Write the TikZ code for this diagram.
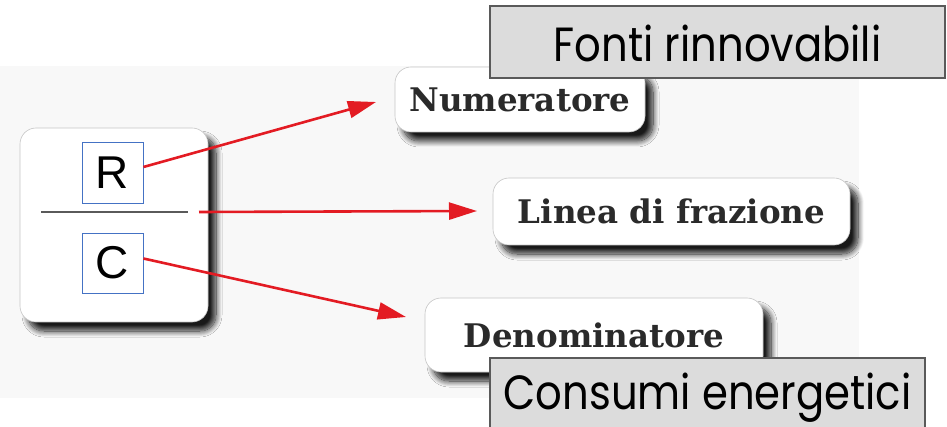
\documentclass[tikz,border=0pt]{standalone}
\usepackage{fontspec}
\usetikzlibrary{arrows.meta,shadows.blur,calc}
\newfontfamily\serifbold{DejaVu Serif}
\newfontfamily\arialfont{Liberation Sans}
\newfontfamily\geofont{Poppins}[FakeStretch=0.87]
\definecolor{bggray}{HTML}{F8F8F8}
\definecolor{labelgray}{HTML}{DCDCDC}
\definecolor{framegray}{HTML}{5A5A5A}
\definecolor{boxblue}{HTML}{4472C4}
\definecolor{arrowred}{HTML}{E31B23}
\definecolor{textgray}{HTML}{2A2A2A}
\tikzset{
  card/.style={draw=gray!45, line width=0.6pt, fill=white, rounded corners=16pt,
    blur shadow={shadow xshift=8pt, shadow yshift=-9pt, shadow opacity=90,
      shadow blur radius=6pt, shadow blur steps=12}},
  cardtext/.style={card, text=textgray, font=\serifbold\bfseries\fontsize{32.5}{36}\selectfont, inner sep=0pt},
  letterbox/.style={draw=boxblue, line width=0.9pt, fill=white, inner sep=0pt,
    font=\arialfont\fontsize{46}{50}\selectfont},
  redarrow/.style={draw=arrowred, line width=2.6pt, -{Triangle[length=28pt,width=17pt]}},
  graylabel/.style={draw=framegray, line width=1.2pt, fill=labelgray, inner sep=0pt,
    font=\geofont\fontsize{48}{52}\selectfont, text=black}
}
\begin{document}
\begin{tikzpicture}[x=1pt,y=-1pt]
\useasboundingbox (0,0) rectangle (947,427);
\fill[bggray] (0,66) rectangle (859,398);
% main fraction card
\node[card, minimum width=188pt, minimum height=194pt] (frac) at (114,225) {};
\node[letterbox, minimum width=61pt, minimum height=61pt] (R) at (112.5,172.5) {R};
\node[letterbox, minimum width=61pt, minimum height=60pt] (C) at (112.5,263) {C};
\coordinate (fl1) at (41,212);
\coordinate (fl2) at (188,212);
\draw[framegray, line width=2.8pt] (fl1) -- (fl2);
\coordinate (flstart) at (199,212);
% target cards
\node[cardtext, minimum width=250pt, minimum height=65pt] (num) at (520,99.5) {Numeratore};
\node[cardtext, minimum width=357pt, minimum height=67pt] (lin) at (671.5,211.5) {Linea di frazione};
\node[cardtext, minimum width=338pt, minimum height=74pt] (den) at (594,335) {Denominatore};
% arrows
\coordinate (t1) at (376,102);
\coordinate (t2) at (477,211);
\coordinate (t3) at (406,317);
\draw[redarrow] ([yshift=5.5pt]R.east) -- (t1);
\draw[redarrow] (flstart) -- (t2);
\draw[redarrow] ([yshift=4.5pt]C.east) -- (t3);
% gray labels
\node[graylabel, minimum width=455pt, text height=56pt, text depth=16pt] (fonti) at (717.5,42) {Fonti rinnovabili};
\node[graylabel, minimum width=435pt, text height=51pt, text depth=31pt] (cons) at (707.5,399) {Consumi energetici};
\end{tikzpicture}
\end{document}
